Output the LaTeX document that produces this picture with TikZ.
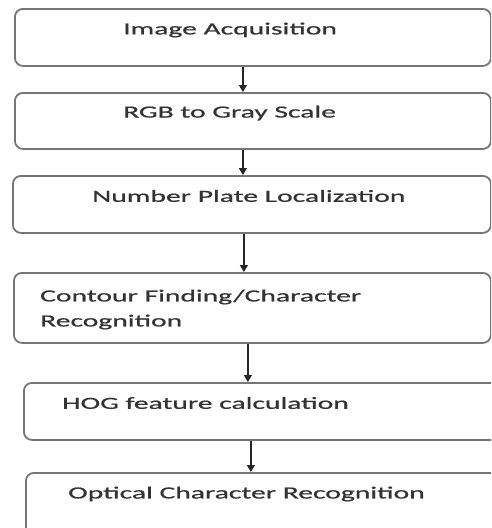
\documentclass[tikz,border=0pt]{standalone}
\usepackage{fontspec}
\setmainfont{Carlito}[FakeStretch=1.74, FakeBold=0.8]
\usepackage{tikz}
\usetikzlibrary{positioning, calc, arrows.meta}

\definecolor{boxgray}{HTML}{767676}
\definecolor{txtgray}{HTML}{333333}

\begin{document}
\begin{tikzpicture}[x=1pt, y=-1pt,
    box/.style={draw=boxgray, line width=1.8pt, rounded corners=8pt,
                anchor=north west, inner sep=0pt},
    lbl/.style={anchor=west, inner sep=0pt, text=txtgray,
                font=\fontsize{17}{25}\selectfont, align=left},
    arr/.style={-{Triangle[length=7pt,width=8pt]}, line width=1.4pt, draw=black!85}]

        \clip (0,0) rectangle (491,528);
        \fill[white] (0,0) rectangle (491,528);

        % Process boxes
        \node[box, minimum width=476pt, minimum height=57pt] (acq) at (14,8) {};
        \node[box, minimum width=476pt, minimum height=56pt] (gray) at (14,92) {};
        \node[box, minimum width=478pt, minimum height=57pt] (plate) at (12,175) {};
        \node[box, minimum width=477pt, minimum height=70pt] (contour) at (13,272) {};
        \node[box, minimum width=500pt, minimum height=57pt] (hog) at (23,382) {};
        \node[box, minimum width=500pt, minimum height=70pt] (ocr) at (25,472) {};

        % Box texts
        \node[lbl] (acqt) at (123,30) {Image Acquisition};
        \node[lbl] (grayt) at (123,113) {RGB to Gray Scale};
        \node[lbl] (platet) at (92,196) {Number Plate Localization};
        \node[lbl] (contourt) at (40,309.5) {Contour Finding/Character\\Recognition};
        \node[lbl] (hogt) at (62,403) {HOG feature calculation};
        \node[lbl] (ocrt) at (68,494) {Optical Character Recognition};

        % Flow arrows
        \draw[arr] ([xshift=-10pt]acq.south) -- ([xshift=-10pt]acq.south |- gray.north);
        \draw[arr] ([xshift=-10pt]gray.south) -- ([xshift=-10pt]gray.south |- plate.north);
        \draw[arr] ([xshift=-8pt]plate.south) -- ([xshift=-8pt]plate.south |- contour.north);
        \draw[arr] ([xshift=-4.5pt]contour.south) -- ([xshift=-4.5pt]contour.south |- hog.north);
        \draw[arr] ([xshift=-23pt]hog.south) -- ([xshift=-23pt]hog.south |- ocr.north);
  \end{tikzpicture}
\end{document}
